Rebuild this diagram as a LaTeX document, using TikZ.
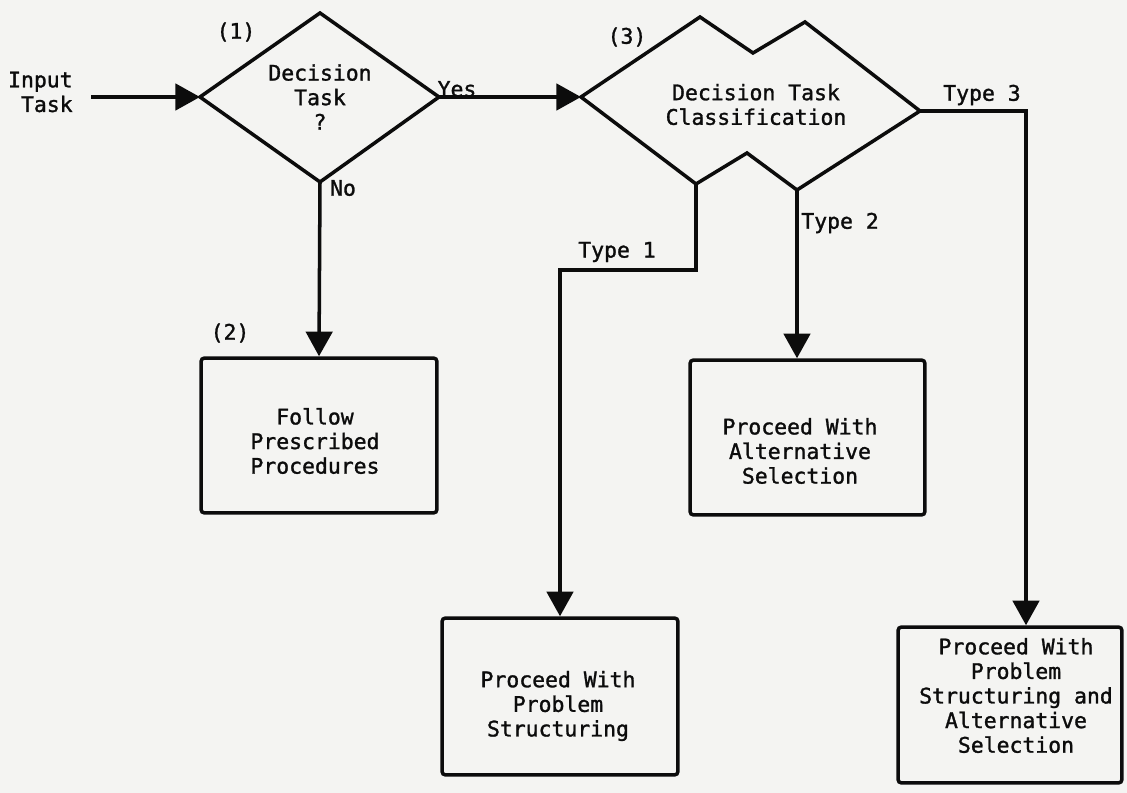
\documentclass[tikz,border=0pt]{standalone}
\usepackage{fontspec}
\newfontfamily\gothic[FakeBold=1.3]{DejaVu Sans Mono}
\usetikzlibrary{arrows.meta}
\definecolor{paper}{RGB}{244,244,242}
\definecolor{ink}{RGB}{12,12,12}
\begin{document}
\begin{tikzpicture}[x=0.02cm,y=-0.02cm,
  line/.style={draw=ink, line width=2pt, line join=miter},
  flow/.style={line, -{Triangle[length=14pt,width=15pt]}},
  lbl/.style={font=\gothic\fontsize{12.2}{14}\selectfont, inner sep=0pt, text=ink},
  txt/.style={lbl, align=center},
  box/.style={line, rounded corners=2pt, inner sep=0pt},
]
% sheet
\fill[paper] (0,0) rectangle (1127,793);

% (1) simple decision diamond
\coordinate (d1w) at (200,97);
\coordinate (d1n) at (320,13);
\coordinate (d1e) at (439,97);
\coordinate (d1s) at (320,182);
\draw[line] (d1w) -- (d1n) -- (d1e) -- (d1s) -- cycle;
\node[txt] (d1t) at (320,97) {Decision\\Task\\?};
\node[lbl] (n1) at (236,32) {(1)};

% (3) classification diamond with notched top and bottom
\coordinate (d3w)  at (581,97);
\coordinate (d3p1) at (700,17);
\coordinate (d3v)  at (753,53);
\coordinate (d3p2) at (805,22);
\coordinate (d3e)  at (920,111);
\coordinate (d3br) at (797,190);
\coordinate (d3bp) at (747,153);
\coordinate (d3bl) at (696,184);
\draw[line] (d3w) -- (d3p1) -- (d3v) -- (d3p2) -- (d3e) -- (d3br)
  -- (d3bp) -- (d3bl) -- cycle;
\node[txt] (d3t) at (756,104.5) {Decision Task\\Classification};
\node[lbl] (n3) at (627,37) {(3)};

% input
\node[lbl, align=right, anchor=east] (in) at (73,92) {Input\\Task};
\coordinate (inStart) at (91,97);
\draw[flow] (inStart) -- (d1w);

% outcome boxes
\node[box, minimum width=4.72cm, minimum height=3.1cm] (b2) at (319,435.5) {};
\node[txt] (b2t) at (315,441) {Follow\\Prescribed\\Procedures};
\node[lbl] (n2) at (230,333) {(2)};

\node[box, minimum width=4.70cm, minimum height=3.1cm] (b3) at (807.5,437.5) {};
\node[txt] (b3t) at (800,451) {Proceed With\\Alternative\\Selection};

\node[box, minimum width=4.72cm, minimum height=3.14cm] (b4) at (560,696.5) {};
\node[txt] (b4t) at (558,706) {Proceed With\\Problem\\Structuring};

\node[box, minimum width=4.48cm, minimum height=3.12cm] (b5) at (1010,705) {};
\node[txt] (b5t) at (1016,695.5) {Proceed With\\Problem\\Structuring and\\Alternative\\Selection};

% connectors
\draw[flow] (d1e) -- (d3w);
\node[lbl] (yes) at (457,89) {Yes};

\draw[flow] (d1s) -- (b2.north);
\node[lbl] (no) at (343,188) {No};

\coordinate (k1) at (696,270);
\draw[flow] (d3bl) -- (k1) -| (b4.north);
\node[lbl] (ty1) at (617,252) {Type 1};

\draw[flow] (d3br) -- (d3br |- b3.north);
\node[lbl, anchor=west] (ty2) at (801,223) {Type 2};

\coordinate (k3) at (1026,111);
\draw[flow] (d3e) -- (k3) -- (k3 |- b5.north);
\node[lbl] (ty3) at (982,95) {Type 3};
\end{tikzpicture}
\end{document}
